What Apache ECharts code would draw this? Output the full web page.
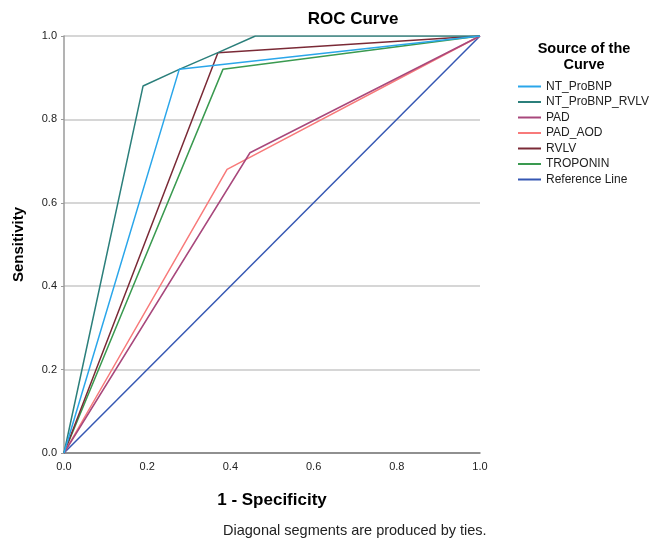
<!DOCTYPE html>
<html>
<head>
<meta charset="utf-8">
<script src="https://cdn.jsdelivr.net/npm/echarts@6/dist/echarts.min.js"></script>
<style>html,body{margin:0;padding:0;background:#fff}#c{width:652px;height:540px}</style>
</head>
<body>
<div id="c"></div>
<script>
var seriesNames = ['NT_ProBNP', 'NT_ProBNP_RVLV', 'PAD', 'PAD_AOD', 'RVLV', 'TROPONIN', 'Reference Line'];
var ntProBNP = [[0, 0], [0.277, 0.92], [1, 1]];
var ntProBNPRVLV = [[0, 0], [0.19, 0.88], [0.277, 0.92], [0.37, 0.96], [0.46, 1.0], [1, 1]];
var pad = [[0, 0], [0.447, 0.72], [1, 1]];
var padAOD = [[0, 0], [0.392, 0.68], [1, 1]];
var rvlv = [[0, 0], [0.37, 0.96], [1, 1]];
var troponin = [[0, 0], [0.382, 0.92], [1, 1]];
var referenceLine = [[0, 0], [1, 1]];
var seriesData = [ntProBNP, ntProBNPRVLV, pad, padAOD, rvlv, troponin, referenceLine];
var colors = ['#2aa6ea', '#2b7f7b', '#a8487c', '#f87a7a', '#7a2a36', '#3a9a50', '#3557b3'];
var tickLabels = ['0.0', '0.2', '0.4', '0.6', '0.8', '1.0'];

var chart = echarts.init(document.getElementById('c'), null, {renderer: 'canvas'});
var font = 'Arial, "Liberation Sans", sans-serif';
var series = seriesNames.map(function (n, i) {
  return {
    name: n, type: 'line', data: seriesData[i], symbol: 'none',
    lineStyle: {color: colors[i], width: 1.5}, itemStyle: {color: colors[i]},
    z: 10 - i, animation: false
  };
});
series[6].z = 3;
chart.setOption({
  animation: false,
  color: colors,
  textStyle: {fontFamily: font},
  title: [
    {text: 'ROC Curve', left: 348, top: 6, textAlign: 'center',
      textStyle: {fontSize: 17, fontWeight: 'bold', color: '#000', fontFamily: font}},
    {text: 'Source of the\nCurve', left: 579, top: 36, textAlign: 'center',
      textStyle: {fontSize: 14.5, fontWeight: 'bold', color: '#000', lineHeight: 16, fontFamily: font}},
    {text: 'Diagonal segments are produced by ties.', left: 218, top: 518,
      textStyle: {fontSize: 14.5, fontWeight: 'normal', color: '#222', fontFamily: font}}
  ],
  legend: {
    orient: 'vertical', left: 513, top: 75, itemWidth: 23, itemHeight: 2, itemGap: 2.5,
    icon: 'rect', data: seriesNames,
    textStyle: {fontSize: 12, color: '#222', lineHeight: 13, fontFamily: font}
  },
  grid: {left: 64, right: 172, top: 36, bottom: 87, containLabel: false},
  xAxis: {
    type: 'value', min: 0, max: 1, interval: 0.2,
    name: '1 - Specificity', nameLocation: 'middle', nameGap: 39,
    nameTextStyle: {fontSize: 17, fontWeight: 'bold', color: '#000'},
    axisLine: {show: true, lineStyle: {color: '#7a7a7a', width: 1.5}},
    axisTick: {show: false},
    axisLabel: {fontSize: 11, color: '#222', margin: 8, formatter: function (v) { return tickLabels[Math.round(v * 5)]; }},
    splitLine: {show: false}
  },
  yAxis: {
    type: 'value', min: 0, max: 1, interval: 0.2,
    name: 'Sensitivity', nameLocation: 'middle', nameGap: 38,
    nameTextStyle: {fontSize: 15, fontWeight: 'bold', color: '#000'},
    axisLine: {show: true, lineStyle: {color: '#9a9a9a', width: 1.5}},
    axisTick: {show: true, length: 3, lineStyle: {color: '#9a9a9a'}},
    axisLabel: {fontSize: 11, color: '#222', margin: 7, formatter: function (v) { return tickLabels[Math.round(v * 5)]; }},
    splitLine: {show: true, lineStyle: {color: '#c8c8c8', width: 1.5}}
  },
  series: series
});
</script>
</body>
</html>
